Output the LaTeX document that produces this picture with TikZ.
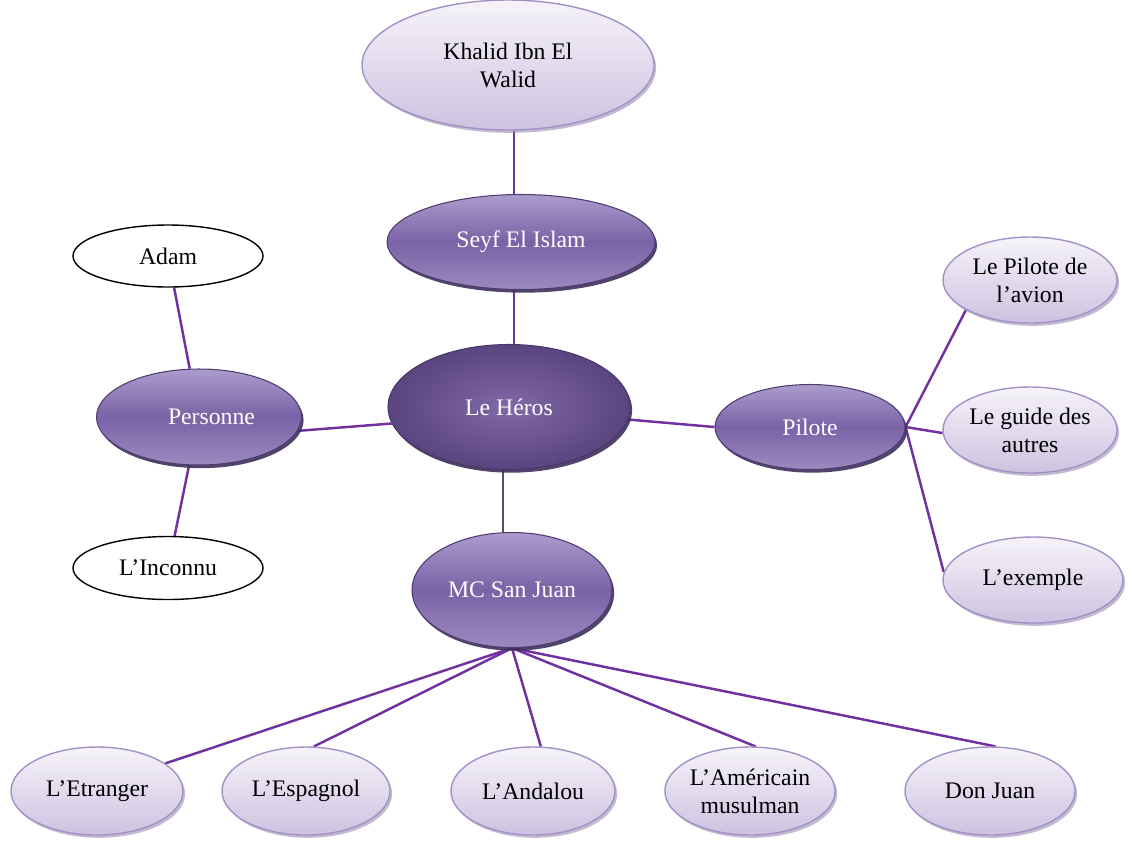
\documentclass[tikz,border=0pt]{standalone}
\usepackage{fontspec}
\setmainfont{Liberation Serif}
\usetikzlibrary{shapes.geometric,shadows,backgrounds}
\definecolor{lnk}{HTML}{7030A0}
\definecolor{lnkdark}{HTML}{5A4A70}
\definecolor{ltop}{HTML}{F6F3FA}
\definecolor{lbot}{HTML}{CDC2E0}
\definecolor{lbord}{HTML}{A391C6}
\definecolor{mtop}{HTML}{AC9CCC}
\definecolor{mmid}{HTML}{7A62A6}
\definecolor{mbot}{HTML}{9D8AC0}
\definecolor{mbord}{HTML}{4E3C70}
\definecolor{hin}{HTML}{8268A8}
\definecolor{hout}{HTML}{5A4580}
\begin{document}
\begin{tikzpicture}[x=0.02cm,y=-0.02cm,
  sz/.style 2 args={minimum width=#1*0.02cm, minimum height=#2*0.02cm},
  base/.style={ellipse, inner sep=0pt, align=center, font=\fontsize{13.5}{16}\selectfont},
  lightn/.style={base, draw=lbord, line width=0.8pt, top color=ltop, bottom color=lbot, text=black,
    drop shadow={shadow xshift=1.2pt, shadow yshift=-1.6pt, fill=lbord!70!gray, opacity=0.6}},
  midn/.style={base, draw=mbord, line width=0.6pt, top color=mtop, bottom color=mbot, middle color=mmid, text=white,
    drop shadow={shadow xshift=1.2pt, shadow yshift=-1.8pt, fill=mbord!80!black, opacity=0.9}},
  heron/.style={base, draw=hout!80!black, line width=0.6pt, inner color=hin, outer color=hout, text=white,
    drop shadow={shadow xshift=1.2pt, shadow yshift=-1.8pt, fill=hout!70!black, opacity=0.9}},
  whiten/.style={base, draw=black, line width=0.8pt, fill=white, text=black},
  conn/.style={draw=lnk, line width=1.4pt}
]
\useasboundingbox (0,0) rectangle (1131,843);

\node[lightn, sz={292}{130}] (khalid) at (508,65) {Khalid Ibn El\\Walid};
\node[midn, sz={268}{95}] (seyf) at (521,242) {Seyf El Islam};
\node[heron, sz={242}{125}] (heros) at (509,407) {Le Héros};
\node[midn, sz={205}{96}] (personne) at (199,417) {\hspace*{0.5cm}Personne};
\node[whiten, sz={190}{62}] (adam) at (168,256) {Adam};
\node[whiten, sz={190}{63}] (inconnu) at (168,568) {L’Inconnu};
\node[midn, sz={190}{85}] (pilote) at (810,427) {Pilote};
\node[lightn, sz={174}{86}] (pav) at (1030,280) {Le Pilote de\\l’avion};
\node[lightn, sz={174}{86}] (guide) at (1030,430) {Le guide des\\autres};
\node[lightn, sz={180}{86}] (exemple) at (1033,580) {L’exemple};
\node[midn, sz={200}{115}] (mc) at (512,590) {MC San Juan};
\node[lightn, sz={172}{88}] (etr) at (97,791) {L’Etranger};
\node[lightn, sz={168}{88}] (esp) at (306,791) {L’Espagnol};
\node[lightn, sz={164}{88}] (anda) at (533,791) {L’Andalou};
\node[lightn, sz={170}{88}] (ame) at (750,791) {L’Américain\\musulman};
\node[lightn, sz={170}{88}] (don) at (990,791) {Don Juan};

\coordinate (vx) at (514,0);
\coordinate (vy) at (503,0);

\begin{scope}[on background layer]
\draw[conn] (khalid.south -| vx) -- (seyf.north -| vx);
\draw[conn] (seyf.south -| vx) -- (heros.north -| vx);
\draw[draw=lnkdark, line width=1.6pt] (heros.south -| vy) -- (mc.north -| vy);
\draw[conn] (personne.-8) -- (heros.188);
\draw[conn] (heros.-6) -- (pilote.180);
\draw[conn] (personne) -- (adam);
\draw[conn] (personne) -- (inconnu);
\draw[conn] (pilote.east) -- (pav.205);
\draw[conn] (pilote.east) -- (guide.182);
\draw[conn] (pilote.east) -- (exemple.175);
\draw[conn] (mc.south) -- (etr.22);
\draw[conn] (mc.south) -- (esp.80);
\draw[conn] (mc.south) -- (anda.80);
\draw[conn] (mc.south) -- (ame.83);
\draw[conn] (mc.south) -- (don.83);
\end{scope}
\end{tikzpicture}
\end{document}
